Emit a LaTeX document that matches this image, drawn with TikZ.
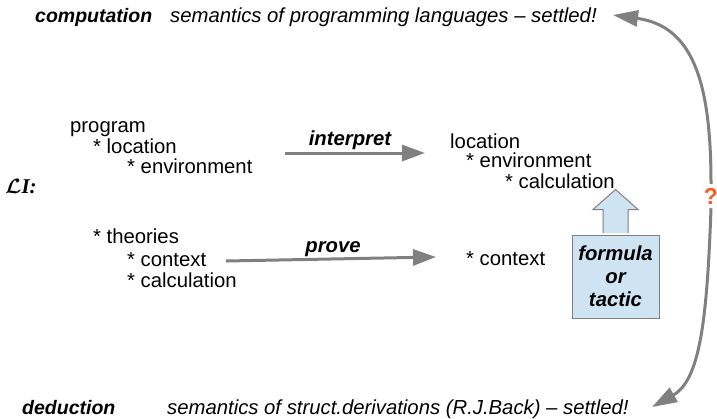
\documentclass[tikz,border=0pt]{standalone}
\usepackage{fontspec}
\setmainfont{Liberation Sans}
\newfontfamily\liserif{Liberation Serif}
\usetikzlibrary{arrows.meta}
\definecolor{arrowgray}{HTML}{808080}
\definecolor{tacticblue}{HTML}{CFE4F3}
\definecolor{qorange}{HTML}{FF5A1E}
\begin{document}
\begin{tikzpicture}[x=1pt, y=-1pt,
  txt/.style={inner sep=0pt, anchor=base west, font=\fontsize{20.3}{20.5}\selectfont},
  head/.style={txt, font=\fontsize{19.5}{20.5}\selectfont\bfseries\itshape},
  note/.style={txt, font=\fontsize{20.3}{20.5}\selectfont\itshape},
  lbl/.style={inner sep=0pt, anchor=base, font=\fontsize{20.3}{20.5}\selectfont\bfseries\itshape},
  flow/.style={-{Triangle[length=23pt, width=16pt]}, line width=3pt, draw=arrowgray},
  curvy/.style={-{Triangle[length=25pt, width=16pt]}, line width=3pt, draw=arrowgray},
  tacticbox/.style={rectangle, draw=arrowgray, fill=tacticblue, line width=1pt,
                    minimum width=87pt, minimum height=83pt, align=center,
                    font=\fontsize{20.3}{23}\selectfont\bfseries\itshape}
]
\useasboundingbox (0,0) rectangle (717,418);

% top and bottom lines
\node[head] (comp) at (35,22)  {computation};
\node[note] (csem) at (170,22) {semantics of programming languages -- settled!};
\node[head] (dedu) at (22,414) {deduction};
\node[note] (dsem) at (167,414) {semantics of struct.derivations (R.J.Back) -- settled!};

% left side
\node[txt] (prog) at (70,132)  {program};
\node[txt] (ploc) at (93,153)  {* location};
\node[txt] (penv) at (127,173) {* environment};
\node[inner sep=0pt, anchor=base west] (li) at (5,193)
  {\fontsize{21}{21}\selectfont{\boldmath$\mathcal{L}$}\liserif\bfseries\itshape I:};
\node[txt] (theo) at (93,243)  {* theories};
\node[txt] (tctx) at (127,266) {* context};
\node[txt] (tcal) at (127,287) {* calculation};

% right side
\node[txt] (rloc) at (450,148) {location};
\node[txt] (renv) at (466,167) {* environment};
\node[txt] (rcal) at (505,188) {* calculation};
\node[txt] (rctx) at (466,265) {* context};

% arrows
\coordinate (ia) at (285,153);
\coordinate (ib) at (425,153);
\draw[flow] (ia) -- (ib);
\node[lbl] (interp) at (350,145) {interpret};
\coordinate (pa) at (226,261);
\coordinate (pb) at (436,257);
\draw[flow] (pa) -- (pb);
\node[lbl] (prove) at (333,252) {prove};

% formula or tactic
\node[tacticbox] (tbox) at (615.5,276.5) {formula\\or\\tactic};
\path[draw=arrowgray, fill=tacticblue, line width=1pt]
  ([xshift=-12.5pt, yshift=1.5pt]tbox.north) -- ++(0,-23.5) -- ++(-10,0)
  -- ++(22.5,-20) -- ++(22.5,20) -- ++(-10,0) -- ++(0,23.5);

% question
\node[inner sep=4pt, text=qorange, font=\fontsize{23}{23}\selectfont\bfseries] (q) at (711,196) {?};
\coordinate (topend) at (613,15);
\coordinate (botend) at (652,407);
\draw[curvy] (q.north) .. controls (711,80) and (692,26) .. (topend);
\draw[curvy] (q.south) .. controls (707,320) and (700,380) .. (botend);
\end{tikzpicture}
\end{document}
